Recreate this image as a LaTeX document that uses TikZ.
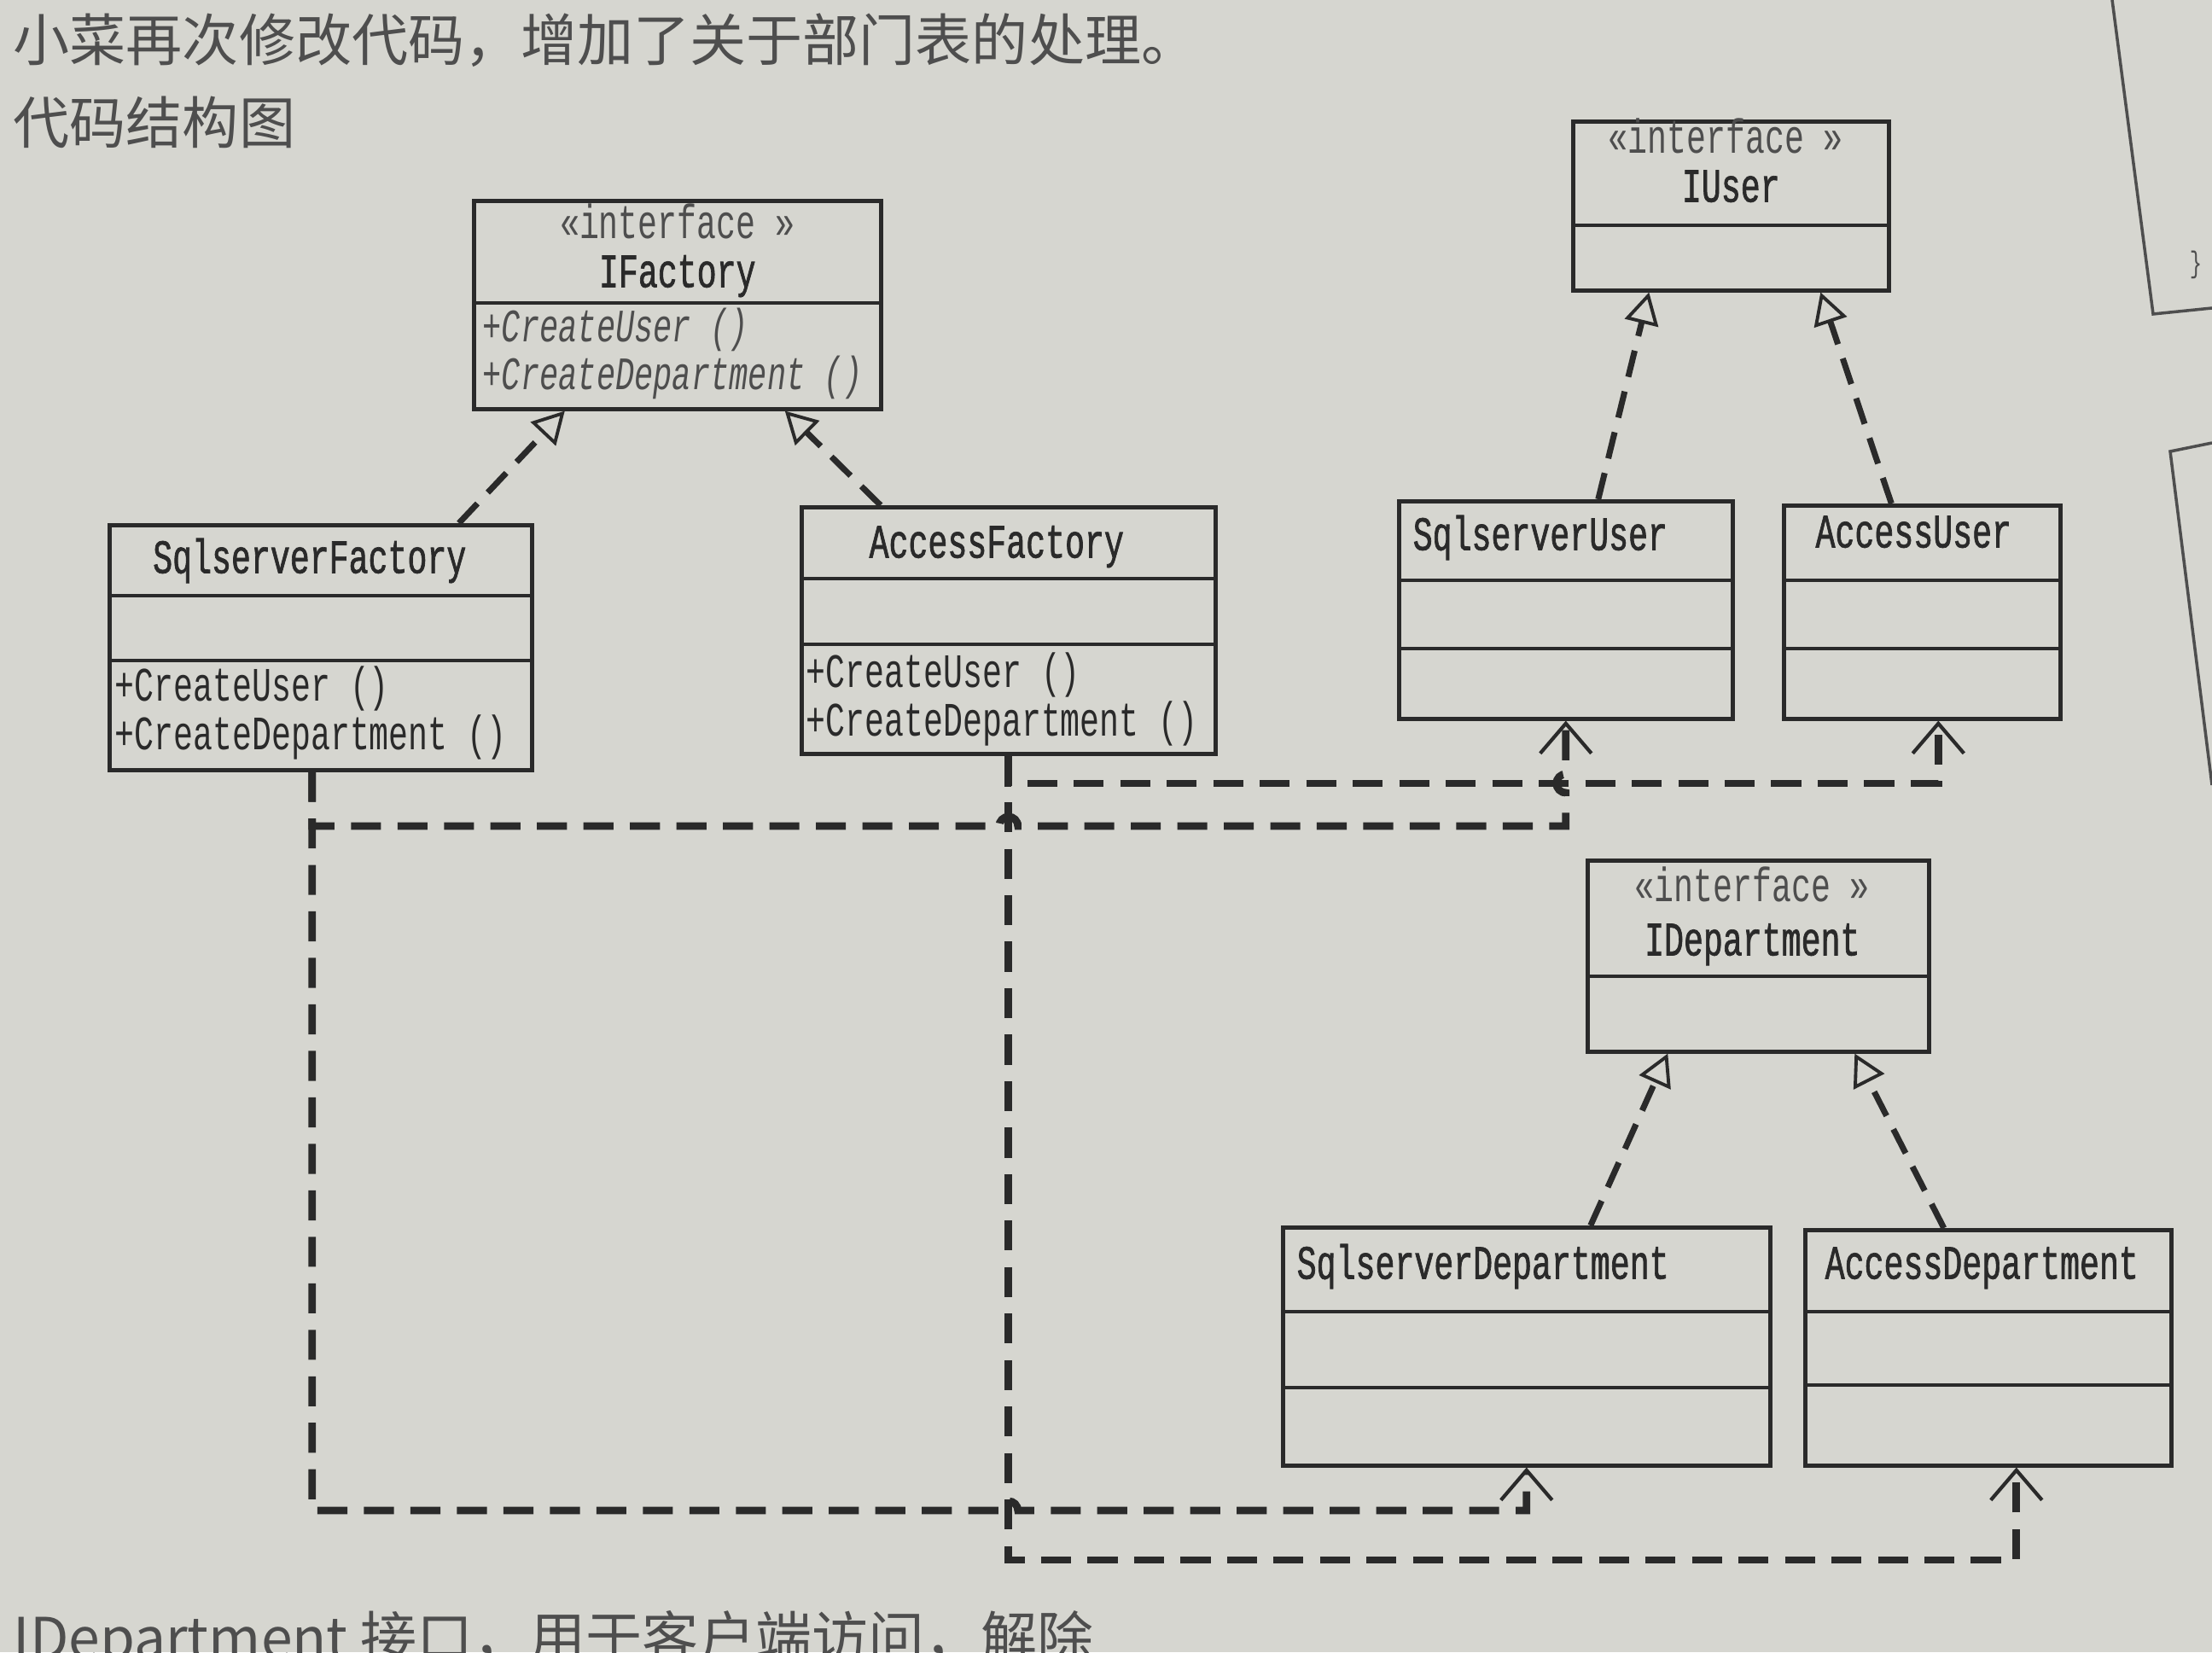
\documentclass[tikz,border=0pt]{standalone}
\usepackage{fontspec}
\usetikzlibrary{arrows.meta}
\usetikzlibrary{calc}
\newfontfamily\cjk{Noto Sans CJK SC}
\newfontfamily\umlfont[FakeStretch=0.68]{Liberation Mono}
\newfontfamily\umlnamefont[FakeStretch=0.68, FakeBold=1.2]{Liberation Mono}
\definecolor{paper}{RGB}{214,214,208}
\definecolor{ink}{RGB}{42,42,42}
\definecolor{pencil}{RGB}{78,78,78}
\newcommand{\hopr}{0.11cm}
\tikzset{
  heading/.style={font=\cjk\fontsize{18.8}{22}\selectfont, text=pencil, inner sep=0pt},
  umlbox/.style={draw=ink, line width=1.3pt, inner sep=0pt, anchor=north west},
  umlsep/.style={draw=ink, line width=1.3pt},
  umlname/.style={font=\umlnamefont\fontsize{16}{18}\selectfont, text=ink, inner sep=0pt, text height=8pt, text depth=2pt},
  stereo/.style={font=\umlfont\fontsize{16}{18}\selectfont, text=pencil, inner sep=0pt, text height=8pt, text depth=2pt},
  umlop/.style={font=\umlfont\fontsize{16}{18}\selectfont, text=ink, inner sep=0pt, text height=8pt, text depth=2pt, anchor=west},
  umlabs/.style={umlop, font=\umlfont\itshape\fontsize{15.5}{18}\selectfont, text=pencil},
  realize/.style={draw=ink, line width=2pt, dash pattern=on 9pt off 5pt,
    -{Triangle[length=3.7mm, width=4mm, line width=1.1pt, fill=paper]}},
  depend/.style={draw=ink, line width=2.5pt, dash pattern=on 10pt off 5.5pt,
    -{Straight Barb[length=3.5mm, width=6mm, line width=1.2pt]}}
}
\begin{document}
\begin{tikzpicture}[every node/.style={inner sep=0pt}]
\useasboundingbox (0,0) rectangle (25.92,19.36);
\fill[paper] (0,0) rectangle (25.92,19.36);

% page text
\node[heading, anchor=west] (headA) at (0.15,18.89) {小菜再次修改代码，增加了关于部门表的处理。};
\node[heading, anchor=west] (headB) at (0.15,17.93) {代码结构图};
\node[heading, anchor=west] (tailA) at (0.15,0.13) {IDepartment 接口，用于客户端访问，解除};

% edge of the next page
\draw[pencil, line width=1pt] (24.75,19.36) -- (25.23,15.68) -- (25.92,15.75);
\draw[pencil, line width=1pt] (25.92,14.17) -- (25.43,14.07) -- (25.92,10.16);
\node[stereo, font=\umlfont\fontsize{10}{12}\selectfont] (brace) at (25.73,16.27) {\}};

% IFactory
\node[umlbox, minimum width=4.77cm, minimum height=2.44cm] (ifac) at (5.53,17.03) {};
\draw[umlsep] ([yshift=-1.22cm]ifac.north west) -- ([yshift=-1.22cm]ifac.north east);
\node[stereo] (ifacStereo) at ([yshift=-0.36cm]ifac.north) {«interface »};
\node[umlname] (ifacName) at ([yshift=-0.93cm]ifac.north) {IFactory};
\node[umlabs] (ifacOpA) at ([xshift=0.12cm, yshift=-1.57cm]ifac.north west) {+CreateUser ()};
\node[umlabs] (ifacOpB) at ([xshift=0.12cm, yshift=-2.13cm]ifac.north west) {+CreateDepartment ()};

% SqlserverFactory
\node[umlbox, minimum width=4.95cm, minimum height=2.87cm] (sf) at (1.26,13.23) {};
\draw[umlsep] ([yshift=-0.85cm]sf.north west) -- ([yshift=-0.85cm]sf.north east);
\draw[umlsep] ([yshift=-1.61cm]sf.north west) -- ([yshift=-1.61cm]sf.north east);
\node[umlname] (sfName) at ([xshift=-0.13cm, yshift=-0.48cm]sf.north) {SqlserverFactory};
\node[umlop] (sfOpA) at ([xshift=0.08cm, yshift=-1.98cm]sf.north west) {+CreateUser ()};
\node[umlop] (sfOpB) at ([xshift=0.08cm, yshift=-2.55cm]sf.north west) {+CreateDepartment ()};

% AccessFactory
\node[umlbox, minimum width=4.85cm, minimum height=2.89cm] (af) at (9.37,13.44) {};
\draw[umlsep] ([yshift=-0.86cm]af.north west) -- ([yshift=-0.86cm]af.north east);
\draw[umlsep] ([yshift=-1.63cm]af.north west) -- ([yshift=-1.63cm]af.north east);
\node[umlname] (afName) at ([xshift=-0.14cm, yshift=-0.51cm]af.north) {AccessFactory};
\node[umlop] (afOpA) at ([xshift=0.07cm, yshift=-2.03cm]af.north west) {+CreateUser ()};
\node[umlop] (afOpB) at ([xshift=0.07cm, yshift=-2.60cm]af.north west) {+CreateDepartment ()};

% IUser
\node[umlbox, minimum width=3.70cm, minimum height=1.98cm] (iu) at (18.41,17.96) {};
\draw[umlsep] ([yshift=-1.24cm]iu.north west) -- ([yshift=-1.24cm]iu.north east);
\node[stereo] (iuStereo) at ([xshift=-0.06cm, yshift=-0.29cm]iu.north) {«interface »};
\node[umlname] (iuName) at ([yshift=-0.86cm]iu.north) {IUser};

% SqlserverUser
\node[umlbox, minimum width=3.91cm, minimum height=2.55cm] (su) at (16.37,13.51) {};
\draw[umlsep] ([yshift=-0.95cm]su.north west) -- ([yshift=-0.95cm]su.north east);
\draw[umlsep] ([yshift=-1.75cm]su.north west) -- ([yshift=-1.75cm]su.north east);
\node[umlname, anchor=west] (suName) at ([xshift=0.18cm, yshift=-0.49cm]su.north west) {SqlserverUser};

% AccessUser
\node[umlbox, minimum width=3.24cm, minimum height=2.50cm] (au) at (20.88,13.46) {};
\draw[umlsep] ([yshift=-0.90cm]au.north west) -- ([yshift=-0.90cm]au.north east);
\draw[umlsep] ([yshift=-1.70cm]au.north west) -- ([yshift=-1.70cm]au.north east);
\node[umlname] (auName) at ([xshift=-0.10cm, yshift=-0.41cm]au.north) {AccessUser};

% IDepartment
\node[umlbox, minimum width=4.00cm, minimum height=2.24cm] (idp) at (18.58,9.30) {};
\draw[umlsep] ([yshift=-1.38cm]idp.north west) -- ([yshift=-1.38cm]idp.north east);
\node[stereo] (idpStereo) at ([xshift=-0.07cm, yshift=-0.40cm]idp.north) {«interface »};
\node[umlname] (idpName) at ([xshift=-0.07cm, yshift=-1.03cm]idp.north) {IDepartment};

% SqlserverDepartment
\node[umlbox, minimum width=5.71cm, minimum height=2.79cm] (sd) at (15.01,5.00) {};
\draw[umlsep] ([yshift=-1.01cm]sd.north west) -- ([yshift=-1.01cm]sd.north east);
\draw[umlsep] ([yshift=-1.90cm]sd.north west) -- ([yshift=-1.90cm]sd.north east);
\node[umlname, anchor=west] (sdName) at ([xshift=0.18cm, yshift=-0.52cm]sd.north west) {SqlserverDepartment};

% AccessDepartment
\node[umlbox, minimum width=4.29cm, minimum height=2.76cm] (ad) at (21.13,4.97) {};
\draw[umlsep] ([yshift=-0.98cm]ad.north west) -- ([yshift=-0.98cm]ad.north east);
\draw[umlsep] ([yshift=-1.84cm]ad.north west) -- ([yshift=-1.84cm]ad.north east);
\node[umlname, anchor=west] (adName) at ([xshift=0.25cm, yshift=-0.49cm]ad.north west) {AccessDepartment};

% realizations
\draw[realize] ([xshift=16.2mm]sf.north) -- ([xshift=-13.2mm]ifac.south);
\draw[realize] ([xshift=-15mm]af.north) -- ([xshift=12.6mm]ifac.south);
\draw[realize] ([xshift=3.8mm]su.north) -- ([xshift=-9.6mm]iu.south);
\draw[realize] ([xshift=-3.6mm]au.north) -- ([xshift=10.5mm]iu.south);
\draw[realize] ([xshift=7.5mm]sd.north) -- ([xshift=-10.6mm]idp.south);
\draw[realize] ([xshift=-5.2mm]ad.north) -- ([xshift=11.3mm]idp.south);

% dependencies
\coordinate (suRow) at (0,9.68);
\coordinate (auRow) at (0,10.18);
\coordinate (sdRow) at (0,1.66);
\coordinate (adRow) at (0,1.08);
\coordinate (sfOut) at ([xshift=-1mm]sf.south);
\draw[depend] (sfOut) |- ([xshift=-\hopr]af.south |- suRow)
  arc[start angle=180, end angle=0, radius=\hopr]
  -| ([yshift=-\hopr]su.south |- auRow)
  arc[start angle=270, end angle=90, radius=\hopr] -- (su.south);
\draw[depend] (af.south) |- ([xshift=1.9mm]au.south |- auRow) -- ([xshift=1.9mm]au.south);
\draw[depend] (sfOut) |- ([xshift=-\hopr]af.south |- sdRow)
  arc[start angle=180, end angle=0, radius=\hopr] -| (sd.south);
\draw[depend] (af.south) |- ([xshift=3.3mm]ad.south |- adRow) -- ([xshift=3.3mm]ad.south);
\end{tikzpicture}
\end{document}
